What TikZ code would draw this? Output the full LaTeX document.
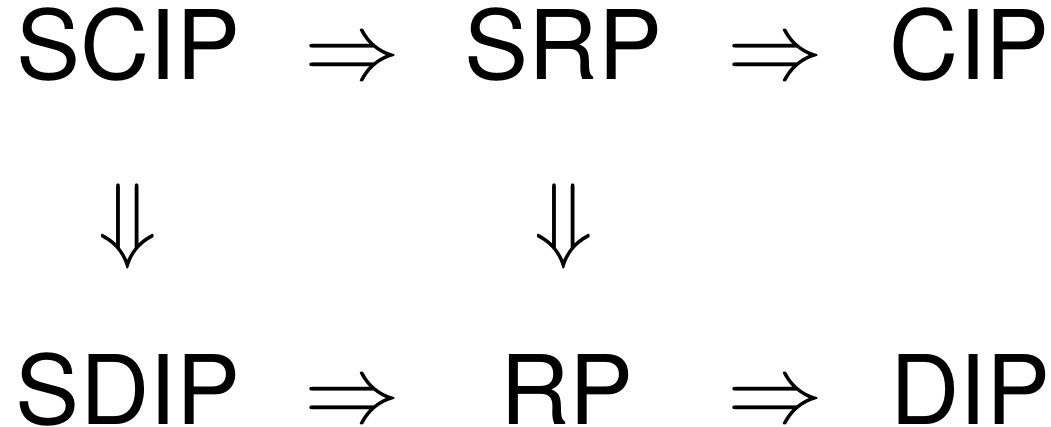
\documentclass[tikz,border=0pt]{standalone}
\usepackage{graphicx}
\usepackage{fontspec}
\setmainfont{TeX Gyre Heros}
\begin{document}
\begin{tikzpicture}[x=1pt,y=1pt,
  lbl/.style={inner sep=0pt,anchor=base,text depth=0pt,font=\fontsize{96}{100}\selectfont},
  arr/.style={inner sep=0pt,anchor=base}]
\useasboundingbox (0,0) rectangle (1051,427);
\node[lbl] (scip) at (128.5,347) {SCIP};
\node[lbl] (srp) at (563.5,347) {SRP};
\node[lbl] (cip) at (970,347) {CIP};
\node[lbl] (sdip) at (128,2) {SDIP};
\node[lbl] (rp) at (567,2) {RP};
\node[lbl] (dip) at (970.5,2) {DIP};
\node[arr] (a1) at (352.5,347) {\scalebox{9.6}{$\Rightarrow$}};
\node[arr] (a2) at (775,347) {\scalebox{9.6}{$\Rightarrow$}};
\node[arr] (a3) at (352.5,4) {\scalebox{9.6}{$\Rightarrow$}};
\node[arr] (a4) at (775,4) {\scalebox{9.6}{$\Rightarrow$}};
\node[arr] (d1) at (128,176) {\scalebox{9.6}{$\Downarrow$}};
\node[arr] (d2) at (564,176) {\scalebox{9.6}{$\Downarrow$}};
\end{tikzpicture}
\end{document}
